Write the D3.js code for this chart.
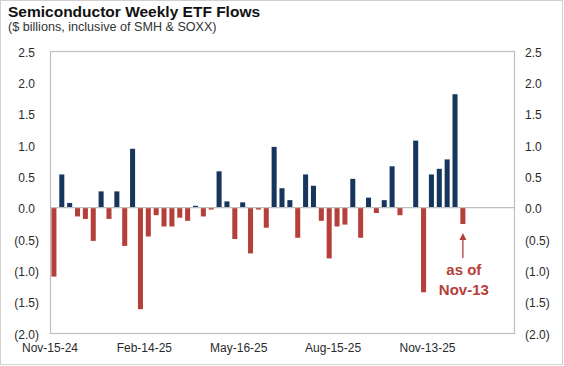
<!DOCTYPE html>
<html>
<head>
<meta charset="utf-8">
<script src="https://cdn.jsdelivr.net/npm/d3@7/dist/d3.min.js"></script>
<style>
  html, body { margin: 0; padding: 0; background: #fff; }
  svg { display: block; font-family: "Liberation Sans", Arial, sans-serif; }
</style>
</head>
<body>
<svg id="chart" width="564" height="366"></svg>
<script>
// ---- data ----
const weeks = [
  "2024-11-15","2024-11-22","2024-11-29","2024-12-06","2024-12-13","2024-12-20","2024-12-27",
  "2025-01-03","2025-01-10","2025-01-17","2025-01-24","2025-01-31",
  "2025-02-07","2025-02-14","2025-02-21","2025-02-28",
  "2025-03-07","2025-03-14","2025-03-21","2025-03-28",
  "2025-04-04","2025-04-11","2025-04-18","2025-04-25",
  "2025-05-02","2025-05-09","2025-05-16","2025-05-23","2025-05-30",
  "2025-06-06","2025-06-13","2025-06-20","2025-06-27",
  "2025-07-04","2025-07-11","2025-07-18","2025-07-25",
  "2025-08-01","2025-08-08","2025-08-15","2025-08-22","2025-08-29",
  "2025-09-05","2025-09-12","2025-09-19","2025-09-26",
  "2025-10-03","2025-10-10","2025-10-17","2025-10-24","2025-10-31",
  "2025-11-07","2025-11-13"
];
const flows = [
  -1.10, 0.53, 0.075, -0.14, -0.18, -0.53, 0.26, -0.18, 0.26, -0.61,
  0.94, -1.62, -0.46, -0.12, -0.30, -0.30, -0.16, -0.21, 0.03, -0.14,
  -0.03, 0.58, 0.10, -0.50, 0.085, -0.73, -0.03, -0.32, 0.97, 0.31,
  0.12, -0.48, 0.53, 0.35, -0.21, -0.81, -0.30, -0.27, 0.46, -0.48,
  0.16, -0.085, 0.12, 0.66, -0.12, 0.0, 1.07, -1.35, 0.53, 0.62,
  0.77, 1.81, -0.26
];
const yTicks = [2.5, 2.0, 1.5, 1.0, 0.5, 0.0, -0.5, -1.0, -1.5, -2.0];
const xTickLabels = ["Nov-15-24", "Feb-14-25", "May-16-25", "Aug-15-25", "Nov-13-25"];
const xTickSlots = [0, 12, 24, 36, 48];
const title = "Semiconductor Weekly ETF Flows";
const subtitle = "($ billions, inclusive of SMH & SOXX)";
const noteLines = ["as of", "Nov-13"];

// ---- layout ----
const W = 564, H = 366;
const plot = { left: 50, right: 514, top: 51, bottom: 333 };
const totalSlots = 59;
const blue = "#17365d", red = "#b5403a", frame = "#bfbfbf", txt = "#2a2a2a";

const svg = d3.select("#chart");

// outer border
svg.append("rect").attr("x", 0.5).attr("y", 0.5).attr("width", W - 2).attr("height", H - 2)
  .attr("fill", "none").attr("stroke", "#d0d0d0");

const x = d3.scaleBand()
  .domain(weeks)
  .range([plot.left, plot.left + (plot.right - plot.left) * weeks.length / totalSlots])
  .paddingInner(0.36).paddingOuter(0.18);

const y = d3.scaleLinear().domain([-2, 2.5]).range([plot.bottom, plot.top]);

const fmt = v => v < 0 ? "(" + d3.format(".1f")(-v) + ")" : d3.format(".1f")(v);

// plot frame
svg.append("rect")
  .attr("x", plot.left + 0.5).attr("y", plot.top + 0.5)
  .attr("width", plot.right - plot.left).attr("height", plot.bottom - plot.top)
  .attr("fill", "none").attr("stroke", frame).attr("stroke-width", 1.2);

// title
svg.append("text").attr("x", 8).attr("y", 17)
  .attr("font-size", 15.5).attr("font-weight", "bold").attr("fill", "#111")
  .text(title);
svg.append("text").attr("x", 8).attr("y", 31)
  .attr("font-size", 12.6).attr("fill", "#333")
  .text(subtitle);

// left axis labels
const leftAxis = d3.axisLeft(y).tickValues(yTicks).tickFormat(fmt).tickSize(0).tickPadding(0);
const gl = svg.append("g").attr("transform", `translate(39,0)`).call(leftAxis);
gl.select(".domain").remove();
gl.selectAll("text").attr("font-size", 12).attr("fill", txt)
  .attr("font-family", "Liberation Sans, Arial, sans-serif")
  .attr("dy", "0.42em")
  .attr("x", d => d < 0 ? 0 : -4);

// right axis labels
const rightAxis = d3.axisRight(y).tickValues(yTicks).tickFormat(fmt).tickSize(0).tickPadding(0);
const gr = svg.append("g").attr("transform", `translate(525,0)`).call(rightAxis);
gr.select(".domain").remove();
gr.selectAll("text").attr("font-size", 12).attr("fill", txt)
  .attr("font-family", "Liberation Sans, Arial, sans-serif")
  .attr("dy", "0.42em");

// bars
svg.append("g").selectAll("rect").data(weeks).join("rect")
  .attr("x", (d) => x(d))
  .attr("width", x.bandwidth())
  .attr("y", (d, i) => y(Math.max(0, flows[i])))
  .attr("height", (d, i) => Math.abs(y(flows[i]) - y(0)))
  .attr("fill", (d, i) => flows[i] >= 0 ? blue : red);

// zero line
svg.append("line")
  .attr("x1", plot.left).attr("x2", plot.right)
  .attr("y1", y(0)).attr("y2", y(0))
  .attr("stroke", frame).attr("stroke-width", 1.3);

// x tick labels (at slot boundaries)
const slotX = i => x(weeks[i]) - x.step() * x.paddingOuter();
svg.append("g").selectAll("text").data(xTickLabels).join("text")
  .attr("x", (d, i) => slotX(xTickSlots[i]))
  .attr("y", 352)
  .attr("text-anchor", "middle")
  .attr("font-size", 12).attr("fill", txt)
  .text(d => d);

// annotation
const lastIdx = weeks.length - 1;
const ax = x(weeks[lastIdx]) + x.bandwidth() / 2;
const tipY = y(flows[lastIdx]) + 9;
svg.append("line").attr("x1", ax).attr("x2", ax)
  .attr("y1", tipY + 5).attr("y2", tipY + 25)
  .attr("stroke", red).attr("stroke-width", 1.3);
svg.append("path")
  .attr("d", `M${ax},${tipY} L${ax - 3.5},${tipY + 7} L${ax + 3.5},${tipY + 7} Z`)
  .attr("fill", red);
svg.append("g").selectAll("text").data(noteLines).join("text")
  .attr("x", ax + 1)
  .attr("y", (d, i) => 275 + i * 19.5)
  .attr("text-anchor", "middle")
  .attr("font-size", 15).attr("font-weight", "bold").attr("fill", red)
  .text(d => d);
</script>
</body>
</html>
